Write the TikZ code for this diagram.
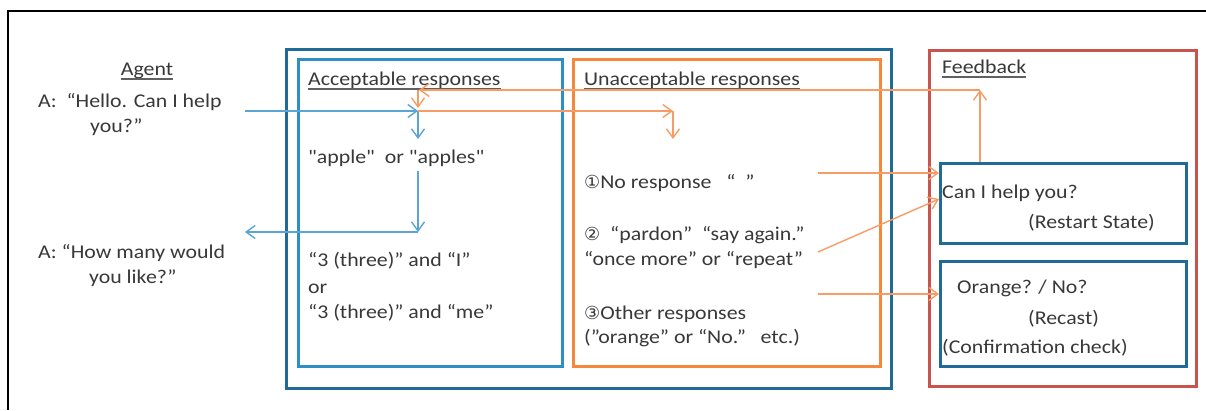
\documentclass[tikz,border=0pt]{standalone}
\usepackage{fontspec}
\setmainfont{Carlito}[FakeStretch=1.12, Ligatures=TeXOff]
\newfontfamily\symfont{DejaVu Sans}
\usetikzlibrary{arrows.meta}
\definecolor{dblue}{HTML}{1F6A96}
\definecolor{lblue}{HTML}{2E8FC6}
\definecolor{ablue}{HTML}{5AA5D6}
\definecolor{orng}{HTML}{F5883A}
\definecolor{aorng}{HTML}{F89C66}
\definecolor{rred}{HTML}{C9534D}
\definecolor{txt}{HTML}{383838}
\begin{document}
\begin{tikzpicture}[x=1pt,y=-1pt,
  box/.style={draw, anchor=north west, inner sep=0pt, line width=3pt},
  lbl/.style={anchor=base west, inner sep=0pt, text=txt, font=\fontsize{19.5}{24}\selectfont},
  ulin/.style={draw=txt!80, line width=1.2pt},
  barrow/.style={draw=ablue, line width=1.4pt, -{Straight Barb[length=9pt,width=13pt]}},
  oarrow/.style={draw=aorng, line width=1.4pt, -{Straight Barb[length=9pt,width=13pt]}}]
\useasboundingbox (0,0) rectangle (1206,410);
\draw[line width=1.3pt] (8,410) -- (8,11) -- (1206,11);

% boxes
\node[box, draw=dblue, minimum width=605pt, minimum height=339pt] (outer) at (285,48) {};
\node[box, draw=lblue, line width=2.6pt, minimum width=264pt, minimum height=307pt] (acc) at (297,58) {};
\node[box, draw=orng, minimum width=307pt, minimum height=307pt] (unacc) at (572,58) {};
\node[box, draw=rred, minimum width=267pt, minimum height=336pt] (fb) at (928,49) {};
\node[box, draw=dblue, minimum width=246pt, minimum height=80pt] (rs) at (939,162) {};
\node[box, draw=dblue, minimum width=246pt, minimum height=105pt] (rc) at (939,260) {};

% agent texts
\node[lbl, anchor=base] (agent) at (147,75) {Agent};
\draw[ulin] ([yshift=-4pt]agent.base west) -- ([yshift=-4pt]agent.base east);
\node[lbl] (hello) at (38,107) {A:\ \ “Hello. Can I help};
\node[lbl] (hello2) at (90,132) {you?”};
\node[lbl] (howmany) at (38,258) {A: “How many would};
\node[lbl] (howmany2) at (89,283) {you like?”};

% acceptable
\node[lbl] (acct) at (308,85) {Acceptable responses};
\draw[ulin] ([yshift=-4pt]acct.base west) -- ([yshift=-4pt]acct.base east);
\node[lbl] (apple) at (308,163) {"apple"\ \ or "apples"};
\node[lbl] (three1) at (308,266) {“3 (three)” and “I”};
\node[lbl] (or) at (308,293) {or};
\node[lbl] (three2) at (308,318) {“3 (three)” and “me”};

% unacceptable
\node[lbl] (unt) at (584,85) {Unacceptable responses};
\draw[ulin] ([yshift=-4pt]unt.base west) -- ([yshift=-4pt]unt.base east);
\node[lbl] (u1) at (584,188) {{\symfont\fontsize{18}{24}\selectfont ①}No response\ \ \ “\ \ ”};
\node[lbl] (u2) at (584,240) {{\symfont\fontsize{18}{24}\selectfont ②}\ \ “pardon”\ \ “say again.”};
\node[lbl] (u2b) at (584,265) {“once more” or “repeat”};
\node[lbl] (u3) at (584,319) {{\symfont\fontsize{18}{24}\selectfont ③}Other responses};
\node[lbl] (u3b) at (584,343) {(”orange” or “No.”\ \ \ etc.)};

% feedback
\node[lbl] (fbt) at (942,73) {Feedback};
\draw[ulin] ([yshift=-4pt]fbt.base west) -- ([yshift=-4pt]fbt.base east);
\node[lbl] (can) at (942,198) {Can I help you?};
\node[lbl] (restart) at (1028,228) {(Restart State)};
\node[lbl] (orange) at (957,293) {Orange? / No?};
\node[lbl] (recast) at (1028,324) {(Recast)};
\node[lbl] (conf) at (942,353) {(Confirmation check)};

% coordinates
\coordinate (bs) at (245,111);
\coordinate (bc) at (418,111);
\coordinate (bd) at (418,139);
\coordinate (bt) at (418,171);
\coordinate (bb) at (418,232);
\coordinate (bl) at (245,232);
\coordinate (ou) at (980,90);
\coordinate (ol) at (419,90);
\coordinate (od) at (418,108);
\coordinate (oc) at (673,111);
\coordinate (odd) at (673,139);
\coordinate (n1) at (818,173);
\coordinate (n2) at (818,252);
\coordinate (n2e) at (900,199);
\coordinate (n3) at (818,294);

% blue arrows
\draw[barrow] (bs) -- (bc);
\draw[barrow] (bc) -- (bd);
\draw[barrow] (bt) -- (bb);
\draw[barrow] (bb) -- (bl);

% orange arrows
\draw[oarrow] (rs.north -| ou) -- (ou);
\draw[oarrow] (ou) -- (ol);
\draw[oarrow] (ol -| od) -- (od);
\draw[oarrow] (bc) -- (oc);
\draw[oarrow] (oc) -- (odd);
\draw[oarrow] (n1) -- (rs.west |- n1);
\draw[oarrow] (n2) -- (rs.west |- n2e);
\draw[oarrow] (n3) -- (rc.west |- n3);
\end{tikzpicture}
\end{document}
